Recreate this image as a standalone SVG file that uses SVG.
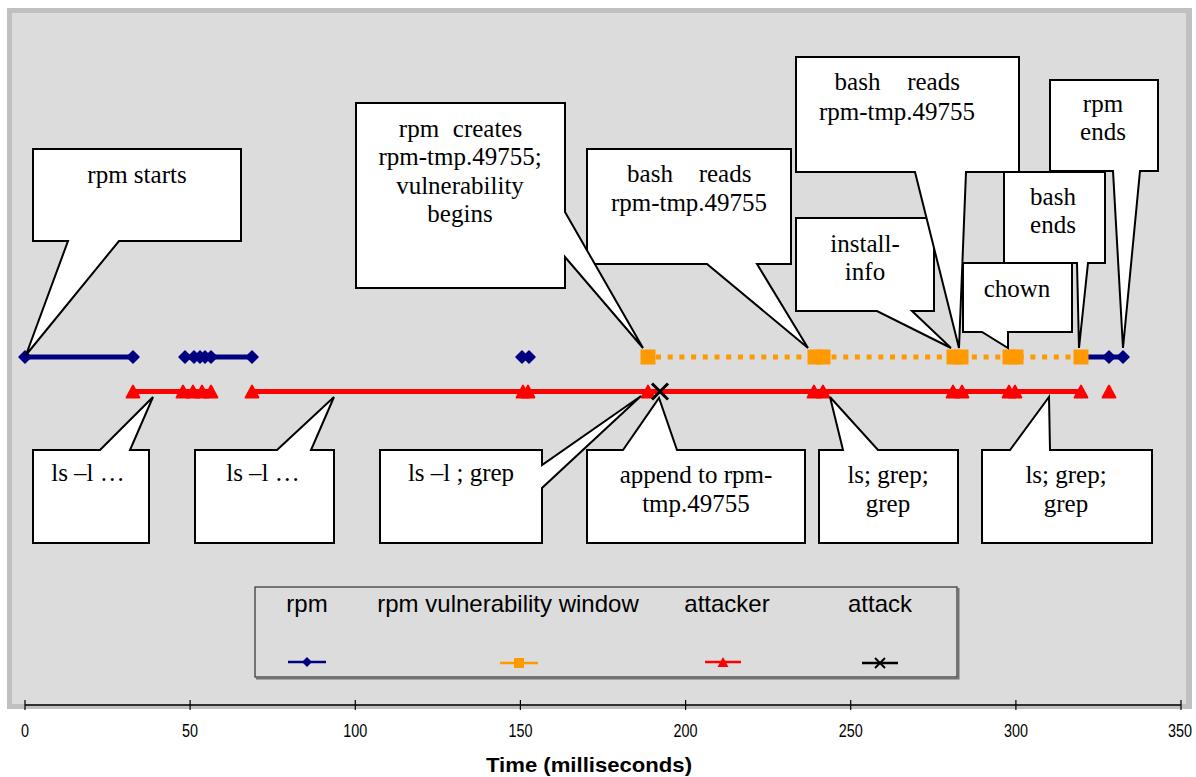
<svg xmlns="http://www.w3.org/2000/svg" width="1196" height="777" viewBox="0 0 1196 777">
  <defs>
    <style>
      .callout { fill:#ffffff; stroke:#000000; stroke-width:2; stroke-linejoin:miter; }
      .note { font-family:"Liberation Serif","Times New Roman",serif; font-size:25px; fill:#000000; text-anchor:middle; }
      .leg { font-family:"Liberation Sans",Arial,sans-serif; font-size:24px; fill:#000000; text-anchor:middle; }
      .tick { font-family:"Liberation Sans",Arial,sans-serif; font-size:18px; fill:#000000; text-anchor:middle; }
      .axis-title { font-family:"Liberation Sans",Arial,sans-serif; font-size:21px; font-weight:bold; fill:#000000; text-anchor:middle; }
      .rpm { stroke:#000080; stroke-width:5; fill:none; }
      .att { stroke:#ff0000; stroke-width:5; fill:none; }
      .win { stroke:#ff9900; stroke-width:5; stroke-dasharray:5 6.7; fill:none; }
    </style>
    <path id="dia" d="M0,-6 L6,0 L0,6 L-6,0 Z" fill="#000080" stroke="#000080" stroke-width="1.5" stroke-linejoin="round"/>
    <rect id="sq" x="-7.5" y="-7.5" width="15" height="15" fill="#ff9900"/>
    <path id="tri" d="M0,-6 L6.5,6 L-6.5,6 Z" fill="#ff0000" stroke="#ff0000" stroke-width="1.8" stroke-linejoin="round"/>
    <path id="cross" d="M-8,-8 L8,8 M-8,8 L8,-8" stroke="#000000" stroke-width="3" fill="none"/>
    <path id="dia-s" d="M0,-5 L5,0 L0,5 L-5,0 Z" fill="#000080"/>
    <rect id="sq-s" x="-5" y="-5" width="10" height="10" fill="#ff9900"/>
    <path id="tri-s" d="M0,-5 L5.5,5 L-5.5,5 Z" fill="#ff0000"/>
    <path id="cross-s" d="M-5,-5 L5,5 M-5,5 L5,-5" stroke="#000000" stroke-width="2" fill="none"/>
  </defs>

  <!-- chart frame -->
  <rect x="7" y="8" width="1185" height="701" fill="#c0c0c0"/>
  <rect x="12" y="13" width="1174" height="691" fill="#dcdcdc"/>

  <!-- data series -->
  <g id="series">
    <!-- rpm -->
    <path class="rpm" d="M25,357 H133 M185,357 H252 M522,357 H529 M1081,357 H1123"/>
    <g>
      <use href="#dia" x="25" y="357"/><use href="#dia" x="133" y="357"/>
      <use href="#dia" x="185" y="357"/><use href="#dia" x="194" y="357"/>
      <use href="#dia" x="200" y="357"/><use href="#dia" x="205" y="357"/>
      <use href="#dia" x="211" y="357"/><use href="#dia" x="252" y="357"/>
      <use href="#dia" x="522" y="357"/><use href="#dia" x="529" y="357"/>
      <use href="#dia" x="648" y="357"/><use href="#dia" x="815" y="357"/>
      <use href="#dia" x="823" y="357"/><use href="#dia" x="954" y="357"/>
      <use href="#dia" x="961" y="357"/><use href="#dia" x="1010" y="357"/>
      <use href="#dia" x="1016" y="357"/><use href="#dia" x="1081" y="357"/>
      <use href="#dia" x="1109" y="357"/><use href="#dia" x="1123" y="357"/>
    </g>
    <!-- rpm vulnerability window -->
    <path class="win" d="M656,357 H1074"/>
    <g>
      <use href="#sq" x="648" y="357"/><use href="#sq" x="815" y="357"/>
      <use href="#sq" x="823" y="357"/><use href="#sq" x="954" y="357"/>
      <use href="#sq" x="961" y="357"/><use href="#sq" x="1010" y="357"/>
      <use href="#sq" x="1016" y="357"/><use href="#sq" x="1081" y="357"/>
    </g>
    <!-- attacker -->
    <path class="att" d="M133,391.5 H211 M252,391.5 H1081"/>
    <g>
      <use href="#tri" x="133" y="391.5"/><use href="#tri" x="183" y="391.5"/>
      <use href="#tri" x="193" y="391.5"/><use href="#tri" x="202" y="391.5"/>
      <use href="#tri" x="211" y="391.5"/><use href="#tri" x="252" y="391.5"/>
      <use href="#tri" x="523" y="391.5"/><use href="#tri" x="528" y="391.5"/>
      <use href="#tri" x="648" y="391.5"/><use href="#tri" x="814" y="391.5"/>
      <use href="#tri" x="823" y="391.5"/><use href="#tri" x="953" y="391.5"/>
      <use href="#tri" x="962" y="391.5"/><use href="#tri" x="1009" y="391.5"/>
      <use href="#tri" x="1015" y="391.5"/><use href="#tri" x="1081" y="391.5"/>
      <use href="#tri" x="1109" y="391.5"/>
    </g>
    <!-- attack -->
    <use href="#cross" x="660" y="391.5"/>
  </g>

  <!-- upper callouts -->
  <g id="note-rpm-ends">
    <path class="callout" d="M1050,80 H1158 V171 H1140 L1123,348 L1113,171 H1050 Z"/>
    <text class="note" x="1103" y="112">rpm</text>
    <text class="note" x="1103" y="140">ends</text>
  </g>
  <g id="note-bash-ends">
    <path class="callout" d="M1004,172 H1105 V263 H1088 L1079,348 L1077,263 H1004 Z"/>
    <text class="note" x="1053" y="205">bash</text>
    <text class="note" x="1053" y="233">ends</text>
  </g>
  <g id="note-chown">
    <path class="callout" d="M963,263 H1072 V332 H1008 V348 L982,332 H963 Z"/>
    <text class="note" x="1017" y="297">chown</text>
  </g>
  <g id="note-install-info">
    <path class="callout" d="M796,218 H934 V311 H912 L951,348 L877,311 H796 Z"/>
    <text class="note" x="865" y="252">install-</text>
    <text class="note" x="865" y="280">info</text>
  </g>
  <g id="note-bash-reads-2">
    <path class="callout" d="M796,57 H1019 V172 H966 L959,348 L915,172 H796 Z"/>
    <text class="note" x="857.5" y="90">bash</text>
    <text class="note" x="933.5" y="90">reads</text>
    <text class="note" x="897" y="120">rpm-tmp.49755</text>
  </g>
  <g id="note-bash-reads-1">
    <path class="callout" d="M587,149 H791 V264 H757 L808,348 L707,264 H587 Z"/>
    <text class="note" x="650" y="182">bash</text>
    <text class="note" x="725" y="182">reads</text>
    <text class="note" x="689" y="211">rpm-tmp.49755</text>
  </g>
  <g id="note-rpm-creates">
    <path class="callout" d="M356,103 H565 V212 L643,348 L565,257 V288 H356 Z"/>
    <text class="note" x="419" y="137">rpm</text>
    <text class="note" x="487.5" y="137">creates</text>
    <text class="note" x="460" y="165">rpm-tmp.49755;</text>
    <text class="note" x="460" y="194">vulnerability</text>
    <text class="note" x="460" y="222">begins</text>
  </g>
  <g id="note-rpm-starts">
    <path class="callout" d="M33,149 H241 V241 H119 L26,355 L68,241 H33 Z"/>
    <text class="note" x="137" y="183">rpm starts</text>
  </g>

  <!-- lower callouts -->
  <g id="note-ls-1">
    <path class="callout" d="M33,450 H100 L153,397 L130,450 H149 V543 H33 Z"/>
    <text class="note" x="88" y="481">ls –l …</text>
  </g>
  <g id="note-ls-2">
    <path class="callout" d="M195,450 H277 L334,397 L311,450 H334 V543 H195 Z"/>
    <text class="note" x="263" y="481">ls –l …</text>
  </g>
  <g id="note-ls-grep">
    <path class="callout" d="M380,450 H542 V465 L641,396 L542,488 V543 H380 Z"/>
    <text class="note" x="461" y="481">ls –l ; grep</text>
  </g>
  <g id="note-append">
    <path class="callout" d="M587,450 H623 L659,398 L677,450 H805 V543 H587 Z"/>
    <text class="note" x="696" y="483">append to rpm-</text>
    <text class="note" x="696" y="512">tmp.49755</text>
  </g>
  <g id="note-ls-grep-grep-1">
    <path class="callout" d="M819,450 H843 L830,397 L878,450 H958 V543 H819 Z"/>
    <text class="note" x="888" y="483">ls; grep;</text>
    <text class="note" x="888" y="512">grep</text>
  </g>
  <g id="note-ls-grep-grep-2">
    <path class="callout" d="M982,450 H1010 L1049,397 L1050,450 H1152 V543 H982 Z"/>
    <text class="note" x="1066" y="483">ls; grep;</text>
    <text class="note" x="1066" y="512">grep</text>
  </g>

  <!-- legend -->
  <g id="legend">
    <rect x="255" y="587" width="702" height="90" fill="#dcdcdc" stroke="#303030" stroke-width="1.2"/>
    <path d="M256,678.5 H958.5 V588" fill="none" stroke="#707070" stroke-width="2"/>
    <text class="leg" x="307" y="612">rpm</text>
    <text class="leg" x="508" y="612">rpm vulnerability window</text>
    <text class="leg" x="727" y="612">attacker</text>
    <text class="leg" x="880" y="612">attack</text>
    <path d="M288,662 H326" stroke="#000080" stroke-width="2.5"/>
    <use href="#dia-s" x="307" y="662"/>
    <path d="M500,663 H538" stroke="#ff9900" stroke-width="2.5"/>
    <use href="#sq-s" x="519" y="663"/>
    <path d="M705,662 H741" stroke="#ff0000" stroke-width="2.5"/>
    <use href="#tri-s" x="723" y="662"/>
    <path d="M862,663 H898" stroke="#000000" stroke-width="2.5"/>
    <use href="#cross-s" x="880" y="663"/>
  </g>

  <!-- time axis -->
  <g id="axis">
    <path d="M25,705 H1181" stroke="#000000" stroke-width="1.5"/>
    <path d="M25,700 V710 M190.1,700 V710 M355.3,700 V710 M520.4,700 V710 M685.6,700 V710 M850.7,700 V710 M1015.9,700 V710 M1181,700 V710" stroke="#000000" stroke-width="1.2"/>
    <text class="tick" x="25" y="737" textLength="8" lengthAdjust="spacingAndGlyphs">0</text>
    <text class="tick" x="190.1" y="737" textLength="16" lengthAdjust="spacingAndGlyphs">50</text>
    <text class="tick" x="355.3" y="737" textLength="24" lengthAdjust="spacingAndGlyphs">100</text>
    <text class="tick" x="520.4" y="737" textLength="24" lengthAdjust="spacingAndGlyphs">150</text>
    <text class="tick" x="685.6" y="737" textLength="24" lengthAdjust="spacingAndGlyphs">200</text>
    <text class="tick" x="850.7" y="737" textLength="24" lengthAdjust="spacingAndGlyphs">250</text>
    <text class="tick" x="1015.9" y="737" textLength="24" lengthAdjust="spacingAndGlyphs">300</text>
    <text class="tick" x="1192" y="737" style="text-anchor:end" textLength="24" lengthAdjust="spacingAndGlyphs">350</text>
    <text class="axis-title" x="589" y="772" textLength="206" lengthAdjust="spacingAndGlyphs">Time (milliseconds)</text>
  </g>
</svg>
